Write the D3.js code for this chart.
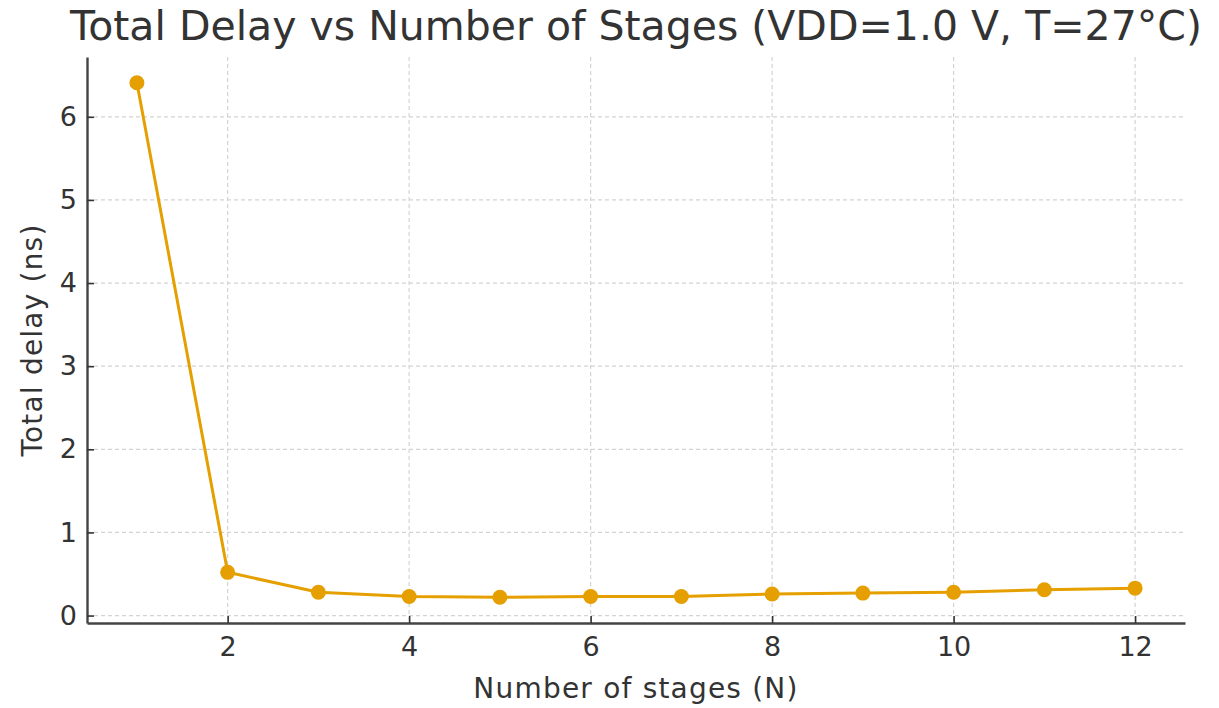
<!DOCTYPE html>
<html>
<head>
<meta charset="utf-8">
<script src="https://cdn.jsdelivr.net/npm/d3@7"></script>
<style>
  body { margin: 0; background: #fff; }
  svg { font-family: "DejaVu Sans", sans-serif; }
</style>
</head>
<body>
<div id="chart"></div>
<script>
// stages vs total delay (ns)
const stages = [1, 2, 3, 4, 5, 6, 7, 8, 9, 10, 11, 12]
const delays = [6.41, 0.52, 0.28, 0.23, 0.22, 0.23, 0.23, 0.26, 0.27, 0.28, 0.31, 0.33]
const xTicks = [2, 4, 6, 8, 10, 12]
const yTicks = [0, 1, 2, 3, 4, 5, 6]

const W = 1219, H = 708
const margin = { top: 57, right: 34, bottom: 85, left: 87 }
const width = W - margin.left - margin.right
const height = H - margin.top - margin.bottom

const data = stages.map((s, i) => ({ n: s, d: delays[i] }))

const svg = d3.select("#chart").append("svg")
    .attr("width", W)
    .attr("height", H)

const g = svg.append("g")
    .attr("transform", "translate(" + margin.left + "," + margin.top + ")")

// matplotlib-like 5% padding
const xPad = (d3.max(stages) - d3.min(stages)) * 0.05
const yPad = (d3.max(delays) - d3.min(delays)) * 0.05

const x = d3.scaleLinear()
    .domain([d3.min(stages) - xPad, d3.max(stages) + xPad])
    .range([0, width])

const y = d3.scaleLinear()
    .domain([d3.min(delays) - yPad, d3.max(delays) + yPad])
    .range([height, 0])

// grid
g.append("g").selectAll("line")
    .data(xTicks).enter().append("line")
    .attr("x1", d => x(d)).attr("x2", d => x(d))
    .attr("y1", 0).attr("y2", height)
    .attr("stroke", "#d3d3d3").attr("stroke-width", 1.2)
    .attr("stroke-dasharray", "4,3")

g.append("g").selectAll("line")
    .data(yTicks).enter().append("line")
    .attr("x1", 0).attr("x2", width)
    .attr("y1", d => y(d)).attr("y2", d => y(d))
    .attr("stroke", "#d3d3d3").attr("stroke-width", 1.2)
    .attr("stroke-dasharray", "4,3")

// axes, ticks pointing inwards
const xAxis = g.append("g")
    .attr("transform", "translate(0," + height + ")")
    .call(d3.axisBottom(x).tickValues(xTicks).tickFormat(d3.format("d"))
        .tickSizeInner(-7).tickSizeOuter(0).tickPadding(14))
const yAxis = g.append("g")
    .call(d3.axisLeft(y).tickValues(yTicks).tickFormat(d3.format("d"))
        .tickSizeInner(-7).tickSizeOuter(0).tickPadding(10))

;[xAxis, yAxis].forEach(a => {
    a.select(".domain").attr("stroke", "#444").attr("stroke-width", 2.4)
    a.selectAll(".tick line").attr("stroke", "#333").attr("stroke-width", 1.6)
    a.selectAll(".tick text")
        .attr("fill", "#333")
        .style("font-size", "27px")
        .style("font-family", "DejaVu Sans, sans-serif")
})

// line + markers
const line = d3.line()
    .x(d => x(d.n))
    .y(d => y(d.d))

g.append("path")
    .datum(data)
    .attr("fill", "none")
    .attr("stroke", "#E69F00")
    .attr("stroke-width", 3)
    .attr("d", line)

g.selectAll(".dot")
    .data(data).enter().append("circle")
    .attr("class", "dot")
    .attr("cx", d => x(d.n))
    .attr("cy", d => y(d.d))
    .attr("r", 7.5)
    .attr("fill", "#E69F00")

// labels
svg.append("text")
    .attr("x", margin.left + width / 2)
    .attr("y", 40)
    .attr("text-anchor", "middle")
    .attr("fill", "#333")
    .style("font-size", "41px")
    .text("Total Delay vs Number of Stages (VDD=1.0 V, T=27°C)")

svg.append("text")
    .attr("x", margin.left + width / 2)
    .attr("y", 698)
    .attr("text-anchor", "middle")
    .attr("fill", "#333")
    .style("font-size", "28px")
    .style("letter-spacing", "1.2px")
    .text("Number of stages (N)")

svg.append("text")
    .attr("transform", "translate(42," + (margin.top + height / 2) + ") rotate(-90)")
    .attr("text-anchor", "middle")
    .attr("fill", "#333")
    .style("font-size", "28px")
    .style("letter-spacing", "1.2px")
    .text("Total delay (ns)")
</script>
</body>
</html>
